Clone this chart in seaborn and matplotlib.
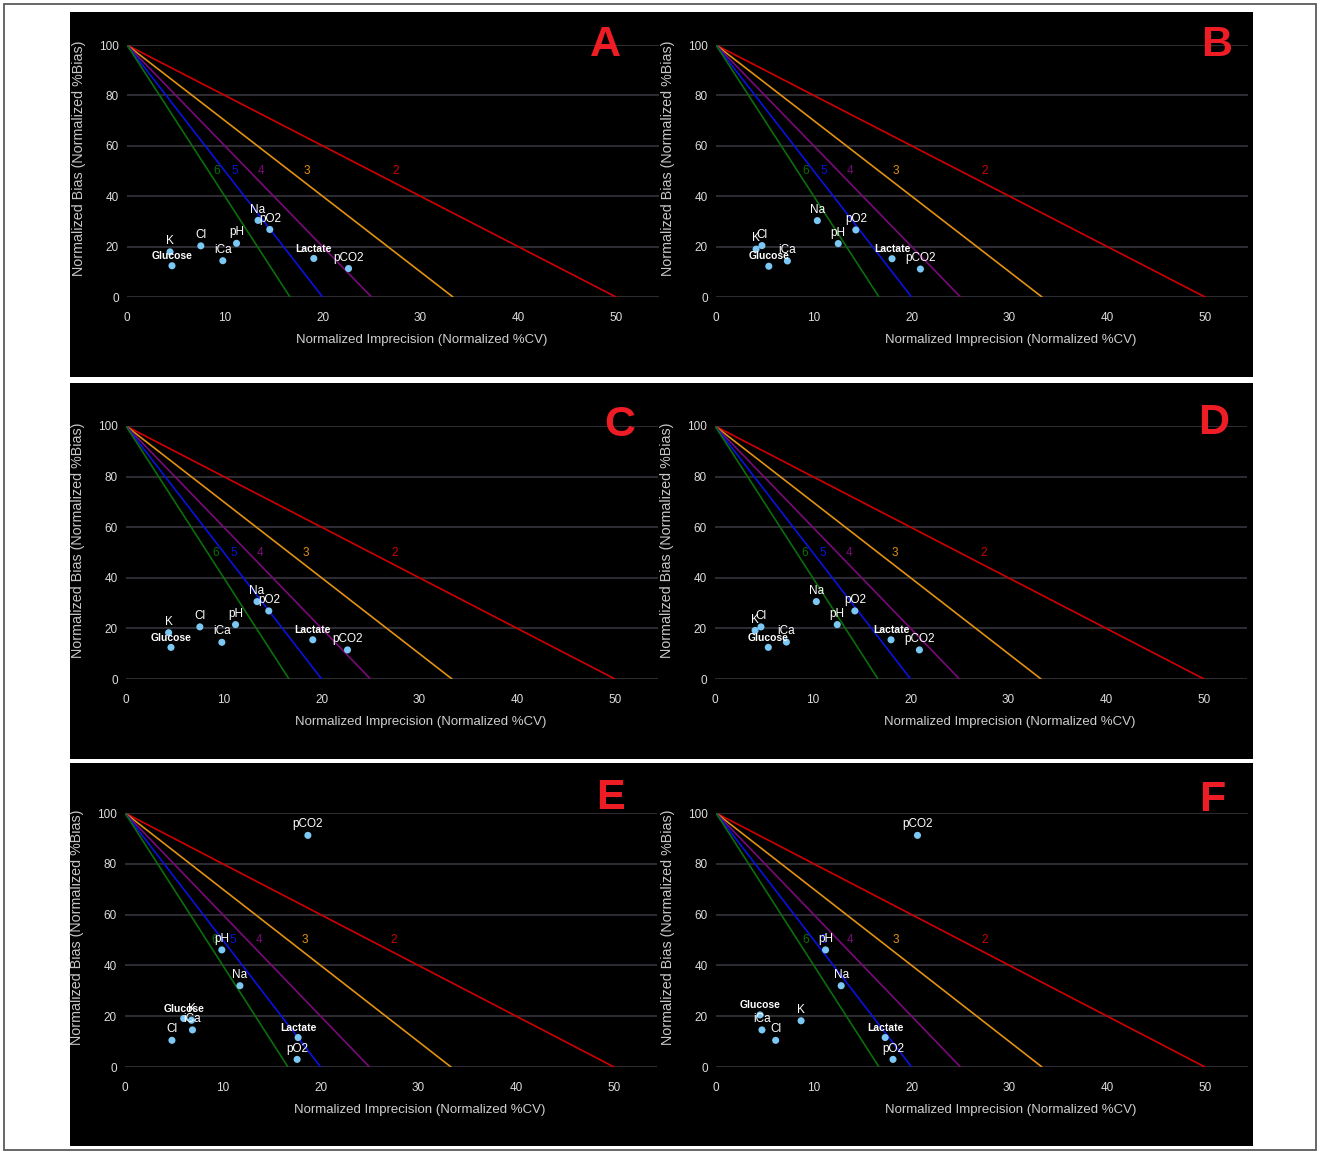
import matplotlib
matplotlib.use("Agg")
import matplotlib.pyplot as plt
from matplotlib.patches import Rectangle
import numpy as np
import pandas as pd
import seaborn as sns

sns.set_theme(style="dark")
plt.rcParams["font.family"] = ["Liberation Sans", "DejaVu Sans"]

# ---- data -------------------------------------------------------------
analytes = ["Glucose", "K", "Na", "Cl", "iCa", "pH", "pCO2", "pO2", "Lactate"]

cv_A = [4.6, 4.4, 13.4, 7.55, 9.8, 11.2, 22.65, 14.6, 19.1]
bias_A = [12.4, 17.9, 30.4, 20.3, 14.4, 21.3, 11.3, 26.8, 15.3]

cv_B = [5.4, 4.1, 10.36, 4.7, 7.3, 12.5, 20.9, 14.3, 18.0]
bias_B = [12.2, 19.0, 30.3, 20.4, 14.3, 21.2, 11.1, 26.6, 15.2]

cv_C = [4.6, 4.36, 13.4, 7.55, 9.8, 11.2, 22.65, 14.6, 19.1]
bias_C = [12.5, 18.3, 30.6, 20.6, 14.5, 21.5, 11.5, 26.9, 15.5]

cv_D = [5.45, 4.1, 10.36, 4.7, 7.3, 12.5, 20.9, 14.3, 18.0]
bias_D = [12.5, 19.2, 30.6, 20.6, 14.6, 21.5, 11.5, 26.9, 15.5]

cv_E = [6.0, 6.8, 11.75, 4.8, 6.9, 9.9, 18.7, 17.6, 17.7]
bias_E = [19.1, 18.4, 32.0, 10.5, 14.6, 46.1, 91.2, 3.0, 11.6]

cv_F = [4.5, 8.7, 12.8, 6.1, 4.7, 11.2, 20.6, 18.1, 17.3]
bias_F = [20.5, 18.2, 32.0, 10.5, 14.6, 46.1, 91.2, 3.0, 11.6]

panel_names = ["A", "B", "C", "D", "E", "F"]
panel_cv = [cv_A, cv_B, cv_C, cv_D, cv_E, cv_F]
panel_bias = [bias_A, bias_B, bias_C, bias_D, bias_E, bias_F]

sigma_levels = [2, 3, 4, 5, 6]
sigma_colors = ["#d00000", "#e39110", "#7a0a7a", "#0a12e0", "#0a6e0a"]

x_ticks = [0, 10, 20, 30, 40, 50]
y_ticks = [0, 20, 40, 60, 80, 100]

# ---- layout (pixels) ---------------------------------------------------
W, H = 1319, 1153
fig = plt.figure(figsize=(W / 100, H / 100), dpi=100)
fig.patch.set_facecolor("white")

# outer frame and black row strips, kept behind every axes
fig.patches.append(Rectangle((4 / W, 1 - 1150 / H), 1312 / W, 1146 / H,
                             transform=fig.transFigure, fill=False,
                             edgecolor="#5a5a5a", lw=1.3, zorder=-10))
for top, bot in [(12, 377), (383, 759), (763, 1146)]:
    fig.patches.append(Rectangle((70 / W, 1 - bot / H), (1253 - 70) / W,
                                 (bot - top) / H, transform=fig.transFigure,
                                 facecolor="black", edgecolor="none", zorder=-10))

# plot-area origin (x=0) and y extent per panel, in pixels
origins = [(127, 45, 297), (716, 45, 297),
           (126, 426, 679), (715, 426, 679),
           (125, 813, 1067), (716, 813, 1067)]
px_per_unit = 9.78
x_max = 54.4
letter_pos = [(605, 45), (1217, 45), (620, 425), (1214, 423), (610, 798), (1212, 800)]

bold_labels = {"Glucose", "Lactate"}

sig_df = pd.DataFrame({
    "cv": np.concatenate([[0.0, 100.0 / s] for s in sigma_levels]),
    "bias": np.concatenate([[100.0, 0.0] for s in sigma_levels]),
    "sigma": np.repeat(sigma_levels, 2),
})

for name, cvs, biases, (x0, ytop, ybot), (lx, ly) in zip(
        panel_names, panel_cv, panel_bias, origins, letter_pos):
    width = x_max * px_per_unit
    ax = fig.add_axes([x0 / W, 1 - ybot / H, width / W, (ybot - ytop) / H])
    ax.set_facecolor("none")
    for sp in ax.spines.values():
        sp.set_visible(False)

    # sigma-metric boundary lines
    sns.lineplot(data=sig_df, x="cv", y="bias", hue="sigma",
                 palette=dict(zip(sigma_levels, sigma_colors)),
                 legend=False, ax=ax, lw=1.2, zorder=3)
    for s, c in zip(sigma_levels, sigma_colors):
        ax.text(55.0 / s, 50, str(s), color=c, fontsize=8.5,
                ha="center", va="center", zorder=4)

    # analyte points
    pts = pd.DataFrame({"cv": cvs, "bias": biases, "analyte": analytes})
    sns.scatterplot(data=pts, x="cv", y="bias", ax=ax, color="#7cc8f4",
                    s=26, edgecolor="none", zorder=5, clip_on=False)
    for a, xv, yv in zip(analytes, cvs, biases):
        ax.annotate(a, (xv, yv), xytext=(0, 3.5), textcoords="offset points",
                    ha="center", va="bottom", color="white",
                    fontsize=7.5 if a in bold_labels else 8.5,
                    fontweight="bold" if a in bold_labels else "normal",
                    zorder=6, annotation_clip=False)

    ax.set_xlim(0, x_max)
    ax.set_ylim(0, 100)
    ax.set_xticks(x_ticks)
    ax.set_yticks(y_ticks)
    ax.grid(False)
    for yv in y_ticks:
        ax.axhline(yv, color="#34343c", lw=1.2, zorder=1)
    ax.tick_params(axis="both", length=0, labelsize=8.5, labelcolor="#dcdcdc")
    ax.tick_params(axis="x", pad=10.5)
    ax.tick_params(axis="y", pad=6)
    ax.set_xlabel("Normalized Imprecision (Normalized %CV)", color="#cfcfcf",
                  fontsize=9.5)
    ax.set_ylabel("Normalized Bias (Normalized %Bias)", color="#c8c8c8",
                  fontsize=10.3)
    h = ybot - ytop
    ax.xaxis.set_label_coords(0.553, -37 / h)
    ax.yaxis.set_label_coords(-41 / width, 0.55)

    fig.text(lx / W, 1 - ly / H, name, color="#ee1c25", fontsize=31,
             fontweight="bold", ha="center", va="center")

fig.savefig("out.png", dpi=100, facecolor="white")
